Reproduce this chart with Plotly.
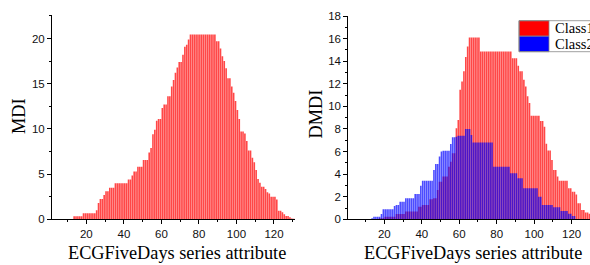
import plotly.graph_objects as go

# ---------------- data ----------------
mdi_x = list(range(13, 131))
mdi_vals = [0.35, 0.35, 0.35, 0.35, 0.35,
            0.66, 0.66, 0.66, 0.66, 0.66, 0.66, 0.66,
            1.0, 1.8, 2.25, 2.25, 2.7, 3.1, 3.1, 3.5, 3.5, 3.5,
            4.0, 4.0, 4.0, 4.0, 4.0, 4.0, 4.0,
            4.4, 4.4, 4.85, 5.3, 5.3, 5.8, 5.8, 5.8, 6.55, 6.55, 6.55,
            7.4, 7.9, 9.4, 9.9, 10.9, 11.1, 11.1, 12.3, 12.7, 12.7,
            13.6, 13.6, 14.7, 15.4, 16.2, 16.8, 17.4, 17.4, 18.2, 19.1, 19.3, 19.9,
            20.45, 20.45, 20.45, 20.45, 20.45, 20.45, 20.45,
            20.45, 20.45, 20.45, 20.45, 20.45, 20.45, 20.45,
            19.7, 19.7, 18.9, 18.05, 17.5, 16.7, 15.6, 15.6, 14.7, 14.0,
            13.1, 12.1, 11.1, 9.7, 9.7, 9.5, 8.65, 7.6, 7.6, 6.8,
            6.3, 5.45, 4.45, 4.05, 3.6, 3.6, 3.35, 3.0, 2.85,
            2.5, 2.5, 2.5, 2.2, 0.95, 0.95, 0.77, 0.55, 0.37, 0.37,
            0.22, 0.1, 0.05]

class1_x = list(range(17, 132))
class1_vals = [0.09, 0.09, 0.09,
               0.23, 0.23, 0.23, 0.23, 0.23, 0.23,
               0.47, 0.47, 0.47, 0.47, 0.47,
               0.68, 0.68, 0.68, 0.68, 0.68, 0.68, 0.68,
               1.12, 1.12, 1.26, 1.26, 1.26, 1.26, 1.77, 1.77, 1.86, 1.86,
               2.6, 3.33, 3.33, 3.78, 3.78, 3.78, 4.66, 5.1, 5.85, 5.85,
               8.07, 8.8, 11.46, 12.2, 13.1, 14.36, 15.3,
               16.1, 16.1, 16.1, 16.1, 16.1, 16.1,
               14.86, 14.86, 14.86, 14.86, 14.86, 14.86, 14.86, 14.86, 14.86,
               14.86, 14.86, 14.86, 14.86, 14.86, 14.86, 14.86, 14.86,
               14.27, 14.27, 14.27, 13.6, 13.1, 13.1, 12.35, 11.76, 10.9, 10.3,
               9.16, 9.16, 9.16, 9.16, 9.16, 8.7, 8.7, 8.2, 6.7, 6.1, 6.1,
               5.26, 4.37, 4.37, 3.78, 3.42, 3.42, 3.42, 3.42, 3.42,
               2.75, 2.75, 2.45, 2.45, 2.2, 1.42, 1.42, 0.82, 0.82,
               0.6, 0.6, 0.5, 0.3, 0.3]

class2_x = list(range(13, 122))
class2_vals = [0.09, 0.23, 0.23, 0.23, 0.23, 0.47,
               0.88, 0.88, 0.88, 0.88, 0.88, 0.88,
               1.18, 1.26, 1.26, 1.56, 1.56, 1.56,
               1.86, 1.86, 1.86, 1.86, 1.86, 2.24, 2.24, 2.24, 2.98,
               3.42, 3.42, 3.42, 3.42, 3.42, 3.42,
               4.37, 4.9, 4.9, 5.55, 6.0, 6.08, 6.08, 6.08, 6.08,
               6.67, 7.27, 7.27, 7.3, 7.4, 7.4, 7.4, 7.4, 8.0, 8.0, 8.0, 7.47,
               6.8, 6.8, 6.8, 6.8, 6.8, 6.8, 6.8, 6.8, 6.8, 6.8, 6.8,
               4.66, 4.66, 4.66, 4.66, 4.66, 4.66, 4.66, 4.66, 4.66,
               4.08, 4.08, 4.08, 4.08, 3.63, 3.63, 3.63,
               2.75, 2.75, 2.75, 2.75, 2.75, 2.75, 2.75, 2.75,
               2.0, 2.0, 1.27, 1.27, 1.27, 1.27, 1.27, 1.27,
               1.06, 1.06, 1.06, 1.06, 0.74, 0.74, 0.74, 0.74,
               0.5, 0.5, 0.3, 0.3]

x_tick_vals = [20, 40, 60, 80, 100, 120]
mdi_tick_vals = [0, 5, 10, 15, 20]
dmdi_tick_vals = [0, 2, 4, 6, 8, 10, 12, 14, 16, 18]
series_names = ["Class1", "Class2"]
x_title = "ECGFiveDays series attribute"

# ---------------- figure ----------------
W, H = 590, 265
RED = "rgba(255,0,0,0.72)"
BLUE = "rgba(0,0,255,0.7)"
BAR_W, BAR_OFF = 0.86, 0.07

fig = go.Figure()
fig.add_trace(go.Bar(x=mdi_x, y=mdi_vals, width=BAR_W, offset=BAR_OFF,
                     marker=dict(color=RED, line=dict(width=0)),
                     xaxis="x", yaxis="y", showlegend=False))
fig.add_trace(go.Bar(x=class1_x, y=class1_vals, width=BAR_W, offset=BAR_OFF,
                     marker=dict(color=RED, line=dict(width=0)),
                     name=series_names[0], xaxis="x2", yaxis="y2", showlegend=False))
fig.add_trace(go.Bar(x=class2_x, y=class2_vals, width=BAR_W, offset=BAR_OFF,
                     marker=dict(color=BLUE, line=dict(width=0)),
                     name=series_names[1], xaxis="x2", yaxis="y2", showlegend=False))

tickfont = dict(family="Liberation Sans, Arial", size=11.5, color="#111")
common_x = dict(showline=True, linecolor="black", linewidth=1, ticks="outside",
                ticklen=4, tickwidth=1, tickcolor="black", showgrid=False,
                zeroline=False, tickvals=x_tick_vals, tickfont=tickfont,
                minor=dict(ticks="outside", ticklen=2, dtick=10, tick0=0,
                           tickcolor="black", tickwidth=1))
common_y = dict(showline=True, linecolor="black", linewidth=1, ticks="outside",
                ticklen=4, tickwidth=1, tickcolor="black", showgrid=False,
                zeroline=False, tickfont=tickfont)


def px(v):
    return v / W


def py(v):
    return 1 - v / H


fig.update_layout(
    width=W, height=H, margin=dict(l=0, r=0, t=0, b=0, autoexpand=False),
    paper_bgcolor="white", plot_bgcolor="white", barmode="overlay",
    showlegend=False,
    xaxis=dict(domain=[px(52), px(295)], range=[1.7, 131.2], anchor="y", **common_x),
    yaxis=dict(domain=[py(219.3), py(15)], range=[0, 22.6], anchor="x",
               tickvals=mdi_tick_vals,
               minor=dict(ticks="outside", ticklen=2, dtick=2.5, tick0=0,
                          tickcolor="black", tickwidth=1), **common_y),
    xaxis2=dict(domain=[px(348.3), 1.0], range=[0.78, 129.8], anchor="y2", **common_x),
    yaxis2=dict(domain=[py(219.3), py(16)], range=[0, 18], anchor="x2",
                tickvals=dmdi_tick_vals,
                minor=dict(ticks="outside", ticklen=2, dtick=1, tick0=0,
                           tickcolor="black", tickwidth=1), **common_y),
)

titlefont = dict(family="Liberation Serif, Times New Roman", size=18.3, color="black")
anns = [
    dict(text=x_title, x=px(176.5), y=py(253), xref="paper", yref="paper",
         showarrow=False, font=titlefont, xanchor="center", yanchor="middle"),
    dict(text=x_title, x=px(473.5), y=py(253), xref="paper", yref="paper",
         showarrow=False, font=titlefont, xanchor="center", yanchor="middle"),
    dict(text="MDI", x=px(19), y=py(116), xref="paper", yref="paper",
         showarrow=False, font=titlefont, textangle=-90,
         xanchor="center", yanchor="middle"),
    dict(text="DMDI", x=px(315), y=py(114.5), xref="paper", yref="paper",
         showarrow=False, font=titlefont, textangle=-90,
         xanchor="center", yanchor="middle"),
]

# legend (manual, swatches wide like the original)
legfont = dict(family="Liberation Serif, Times New Roman", size=14.5, color="black")
sw = [("rgb(255,0,0)", 20.7, 36.2, series_names[0]),
      ("rgb(0,0,255)", 36.2, 51.7, series_names[1])]
shapes = []
for col, y0, y1, name in sw:
    shapes.append(dict(type="rect", xref="paper", yref="paper",
                       x0=px(519), x1=px(549), y0=py(y1), y1=py(y0),
                       fillcolor=col, line=dict(color="#888", width=0.8)))
    anns.append(dict(text=name, x=px(553), y=py((y0 + y1) / 2), xref="paper",
                     yref="paper", showarrow=False, font=legfont,
                     xanchor="left", yanchor="middle"))
shapes.append(dict(type="rect", xref="paper", yref="paper",
                   x0=px(519), x1=px(640), y0=py(51.7), y1=py(20.7),
                   fillcolor="rgba(0,0,0,0)", line=dict(color="#888", width=0.8)))

fig.update_layout(annotations=anns, shapes=shapes)
fig.write_html("out.html", config={"displayModeBar": False},
               post_script="document.body.style.margin='0';"
                           "document.body.style.overflow='hidden';")
